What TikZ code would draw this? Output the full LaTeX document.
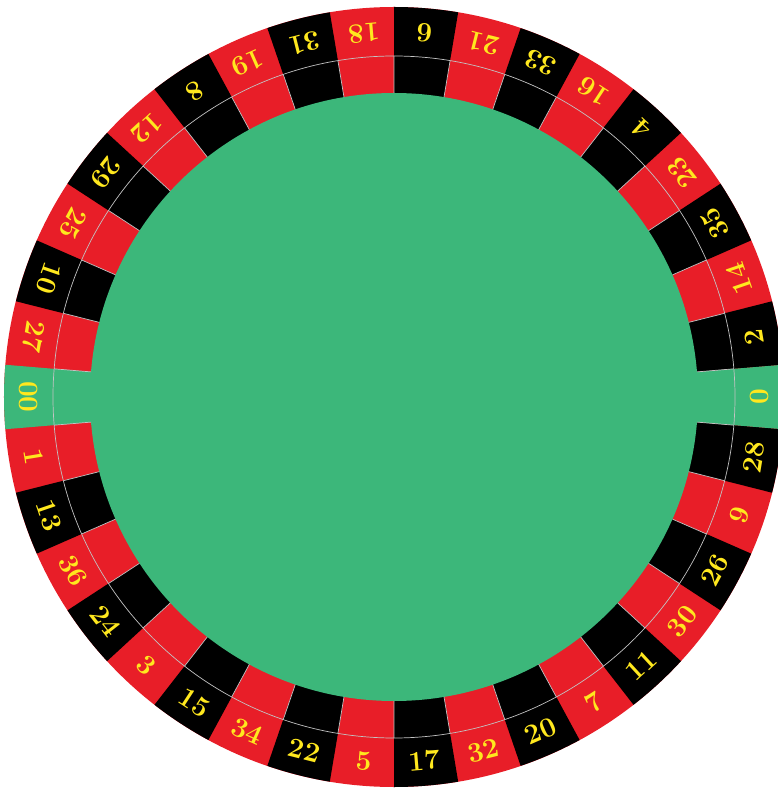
\documentclass[tikz,border=0pt]{standalone}
\usepackage{tikz}
\definecolor{feltgreen}{RGB}{60,183,122}
\definecolor{wheelred}{RGB}{232,30,40}
\definecolor{numyellow}{RGB}{255,232,30}
\definecolor{fretgray}{RGB}{195,195,195}

\begin{document}
\begin{tikzpicture}[x=1pt,y=1pt,
  num/.style={text=numyellow,font=\fontsize{28}{28}\selectfont\bfseries,inner sep=0pt}]
\useasboundingbox (-394,-392) rectangle (384,397);
\fill[wheelred] (0,0) circle[radius=390];
% black pockets
\fill[black] (0,0) -- (-4.74:390) arc[start angle=-4.74,end angle=-14.21,radius=390] -- cycle;
\fill[black] (0,0) -- (-23.68:390) arc[start angle=-23.68,end angle=-33.16,radius=390] -- cycle;
\fill[black] (0,0) -- (-42.63:390) arc[start angle=-42.63,end angle=-52.11,radius=390] -- cycle;
\fill[black] (0,0) -- (-61.58:390) arc[start angle=-61.58,end angle=-71.05,radius=390] -- cycle;
\fill[black] (0,0) -- (-80.53:390) arc[start angle=-80.53,end angle=-90,radius=390] -- cycle;
\fill[black] (0,0) -- (-99.47:390) arc[start angle=-99.47,end angle=-108.95,radius=390] -- cycle;
\fill[black] (0,0) -- (-118.42:390) arc[start angle=-118.42,end angle=-127.89,radius=390] -- cycle;
\fill[black] (0,0) -- (-137.37:390) arc[start angle=-137.37,end angle=-146.84,radius=390] -- cycle;
\fill[black] (0,0) -- (-156.32:390) arc[start angle=-156.32,end angle=-165.79,radius=390] -- cycle;
\fill[black] (0,0) -- (-194.21:390) arc[start angle=-194.21,end angle=-203.68,radius=390] -- cycle;
\fill[black] (0,0) -- (-213.16:390) arc[start angle=-213.16,end angle=-222.63,radius=390] -- cycle;
\fill[black] (0,0) -- (-232.11:390) arc[start angle=-232.11,end angle=-241.58,radius=390] -- cycle;
\fill[black] (0,0) -- (-251.05:390) arc[start angle=-251.05,end angle=-260.53,radius=390] -- cycle;
\fill[black] (0,0) -- (-270:390) arc[start angle=-270,end angle=-279.47,radius=390] -- cycle;
\fill[black] (0,0) -- (-288.95:390) arc[start angle=-288.95,end angle=-298.42,radius=390] -- cycle;
\fill[black] (0,0) -- (-307.89:390) arc[start angle=-307.89,end angle=-317.37,radius=390] -- cycle;
\fill[black] (0,0) -- (-326.84:390) arc[start angle=-326.84,end angle=-336.32,radius=390] -- cycle;
\fill[black] (0,0) -- (-345.79:390) arc[start angle=-345.79,end angle=-355.26,radius=390] -- cycle;
% green pockets and felt
\fill[feltgreen] (0,0) -- (4.74:390) arc[start angle=4.74,end angle=-4.74,radius=390] -- cycle;
\fill[feltgreen] (0,0) -- (-175.26:390) arc[start angle=-175.26,end angle=-184.74,radius=390] -- cycle;
\fill[feltgreen] (0,0) circle[radius=304];
% frets
\draw[fretgray,line width=0.7pt] (0,0) circle[radius=341];
\draw[fretgray,line width=0.7pt]
  (4.74:304) -- (4.74:341) (-4.74:304) -- (-4.74:341) (-14.21:304) -- (-14.21:341)
  (-23.68:304) -- (-23.68:341) (-33.16:304) -- (-33.16:341) (-42.63:304) -- (-42.63:341)
  (-52.11:304) -- (-52.11:341) (-61.58:304) -- (-61.58:341) (-71.05:304) -- (-71.05:341)
  (-80.53:304) -- (-80.53:341) (-90:304) -- (-90:341) (-99.47:304) -- (-99.47:341)
  (-108.95:304) -- (-108.95:341) (-118.42:304) -- (-118.42:341) (-127.89:304) -- (-127.89:341)
  (-137.37:304) -- (-137.37:341) (-146.84:304) -- (-146.84:341) (-156.32:304) -- (-156.32:341)
  (-165.79:304) -- (-165.79:341) (-175.26:304) -- (-175.26:341) (-184.74:304) -- (-184.74:341)
  (-194.21:304) -- (-194.21:341) (-203.68:304) -- (-203.68:341) (-213.16:304) -- (-213.16:341)
  (-222.63:304) -- (-222.63:341) (-232.11:304) -- (-232.11:341) (-241.58:304) -- (-241.58:341)
  (-251.05:304) -- (-251.05:341) (-260.53:304) -- (-260.53:341) (-270:304) -- (-270:341)
  (-279.47:304) -- (-279.47:341) (-288.95:304) -- (-288.95:341) (-298.42:304) -- (-298.42:341)
  (-307.89:304) -- (-307.89:341) (-317.37:304) -- (-317.37:341) (-326.84:304) -- (-326.84:341)
  (-336.32:304) -- (-336.32:341) (-345.79:304) -- (-345.79:341);
% numbers
\node[num,rotate=90] (p0) at (0:365) {0};
\node[num,rotate=80.53] (p28) at (-9.47:365) {28};
\node[num,rotate=71.05] (p9) at (-18.95:365) {9};
\node[num,rotate=61.58] (p26) at (-28.42:365) {26};
\node[num,rotate=52.11] (p30) at (-37.89:365) {30};
\node[num,rotate=42.63] (p11) at (-47.37:365) {11};
\node[num,rotate=33.16] (p7) at (-56.84:365) {7};
\node[num,rotate=23.68] (p20) at (-66.32:365) {20};
\node[num,rotate=14.21] (p32) at (-75.79:365) {32};
\node[num,rotate=4.74] (p17) at (-85.26:365) {17};
\node[num,rotate=-4.74] (p5) at (-94.74:365) {5};
\node[num,rotate=-14.21] (p22) at (-104.21:365) {22};
\node[num,rotate=-23.68] (p34) at (-113.68:365) {34};
\node[num,rotate=-33.16] (p15) at (-123.16:365) {15};
\node[num,rotate=-42.63] (p3) at (-132.63:365) {3};
\node[num,rotate=-52.11] (p24) at (-142.11:365) {24};
\node[num,rotate=-61.58] (p36) at (-151.58:365) {36};
\node[num,rotate=-71.05] (p13) at (-161.05:365) {13};
\node[num,rotate=-80.53] (p1) at (-170.53:365) {1};
\node[num,rotate=-90] (p00) at (-180:365) {00};
\node[num,rotate=-99.47] (p27) at (-189.47:365) {27};
\node[num,rotate=-108.95] (p10) at (-198.95:365) {10};
\node[num,rotate=-118.42] (p25) at (-208.42:365) {25};
\node[num,rotate=-127.89] (p29) at (-217.89:365) {29};
\node[num,rotate=-137.37] (p12) at (-227.37:365) {12};
\node[num,rotate=-146.84] (p8) at (-236.84:365) {8};
\node[num,rotate=-156.32] (p19) at (-246.32:365) {19};
\node[num,rotate=-165.79] (p31) at (-255.79:365) {31};
\node[num,rotate=-175.26] (p18) at (-265.26:365) {18};
\node[num,rotate=-184.74] (p6) at (-274.74:365) {6};
\node[num,rotate=-194.21] (p21) at (-284.21:365) {21};
\node[num,rotate=-203.68] (p33) at (-293.68:365) {33};
\node[num,rotate=-213.16] (p16) at (-303.16:365) {16};
\node[num,rotate=-222.63] (p4) at (-312.63:365) {4};
\node[num,rotate=-232.11] (p23) at (-322.11:365) {23};
\node[num,rotate=-241.58] (p35) at (-331.58:365) {35};
\node[num,rotate=-251.05] (p14) at (-341.05:365) {14};
\node[num,rotate=-260.53] (p2) at (-350.53:365) {2};
\end{tikzpicture}
\end{document}
